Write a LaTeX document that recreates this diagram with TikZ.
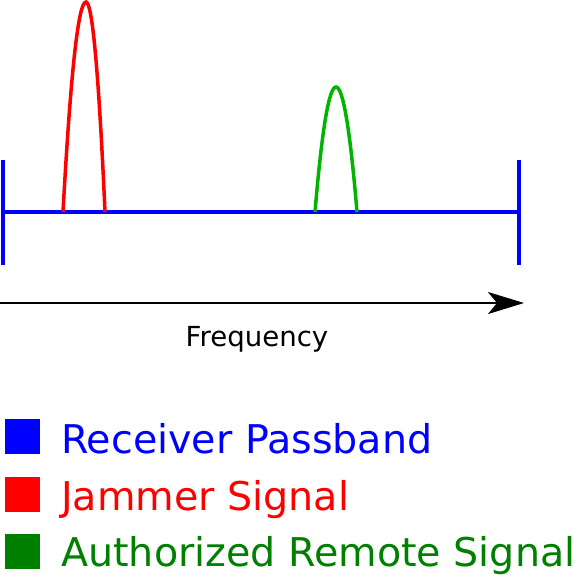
\documentclass[tikz,border=0pt]{standalone}
\usepackage{fontspec}
\setmainfont{DejaVu Sans}
\usepackage{tikz}
\usetikzlibrary{arrows.meta,positioning}
\definecolor{passBlue}{HTML}{0000FF}
\definecolor{jamRed}{HTML}{FF0000}
\definecolor{authGreen}{HTML}{00B400}
\definecolor{keyGreen}{HTML}{008000}

\begin{document}
\begin{tikzpicture}[x=1pt,y=-1pt,>=Stealth,
  band/.style={draw=passBlue,line width=4pt},
  peak/.style={line width=3.5pt},
  keybox/.style={minimum width=35pt,minimum height=35pt,inner sep=0pt,anchor=north west},
  keytext/.style={anchor=base west,inner sep=0pt,font=\fontsize{39.6}{44}\selectfont}]
\useasboundingbox (0,0) rectangle (576,574);
% passband
\coordinate (bandL) at (2,212);
\coordinate (bandR) at (521,212);
\draw[band] (bandL) -- (bandR);
\draw[band] (3,160) coordinate (tickLt) -- (3,265) coordinate (tickLb);
\draw[band] (519,160) coordinate (tickRt) -- (519,265) coordinate (tickRb);
% signals
\draw[peak,jamRed] (63,212) .. controls (70.7,72) and (78.3,2) .. (86,2)
  .. controls (92.3,2) and (98.7,72) .. (105,212);
\draw[peak,authGreen] (315,212) .. controls (322,128.7) and (329,87) .. (336,87)
  .. controls (343,87) and (350,128.7) .. (357,212);
% frequency axis
\coordinate (axL) at (0,303);
\coordinate (axR) at (524,303);
\draw[->,line width=2pt,arrows={-Stealth[length=36pt,width=22pt,inset=9pt]}] (axL) -- (axR);
\node[anchor=base,inner sep=0pt,font=\fontsize{27.6}{32}\selectfont] (freq) at (257,346) {Frequency};
% key
\node[keybox,fill=passBlue] (keyPass) at (5,419) {};
\node[keybox,fill=jamRed] (keyJam) at (5,477) {};
\node[keybox,fill=keyGreen] (keyAuth) at (5,534) {};
\node[keytext,passBlue] (txtPass) at (61,453) {Receiver Passband};
\node[keytext,jamRed] (txtJam) at (61,510) {Jammer Signal};
\node[keytext,keyGreen] (txtAuth) at (61,566) {Authorized Remote Signal};
\end{tikzpicture}
\end{document}
